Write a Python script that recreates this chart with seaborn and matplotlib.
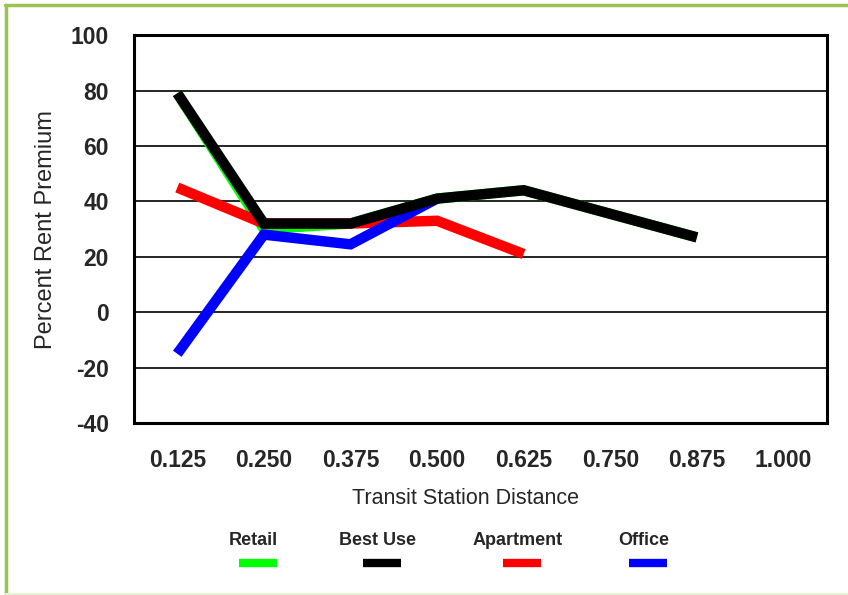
import numpy as np
import pandas as pd
import seaborn as sns
import matplotlib.pyplot as plt
from matplotlib.lines import Line2D

# data
distances = [0.125, 0.250, 0.375, 0.500, 0.625, 0.750, 0.875, 1.000]
retail    = [79, 30, 32, 41, 44, 35.5, 27]
best_use  = [79, 32, 32, 41, 44, 35.5, 27]
apartment = [45, 32, 32, 33, 21]
office    = [-15, 28, 24.5, 41]

legend_order = ['Retail', 'Best Use', 'Apartment', 'Office']
draw_order   = ['Retail', 'Apartment', 'Office', 'Best Use']
colors = {'Retail': '#00ff00', 'Best Use': '#000000',
          'Apartment': '#ff0000', 'Office': '#0000ff'}
series = {'Retail': retail, 'Best Use': best_use,
          'Apartment': apartment, 'Office': office}

rows = []
for name, vals in series.items():
    for d, v in zip(distances, vals):
        rows.append({'Distance': d, 'Premium': v, 'Use': name})
df = pd.DataFrame(rows)

sns.set_style('white')
plt.rcParams['font.family'] = ['Liberation Sans', 'DejaVu Sans']

fig = plt.figure(figsize=(8.48, 5.95), dpi=100)
ax = fig.add_axes([0.158, 0.289, 0.817, 0.652])

sns.lineplot(data=df, x='Distance', y='Premium', hue='Use', hue_order=draw_order,
             palette=colors, linewidth=7.5, legend=False, ax=ax, zorder=3)
for line in ax.get_lines():
    line.set_solid_capstyle('butt')
    line.set_solid_joinstyle('miter')

ax.set_xlim(0.0625, 1.0625)
ax.set_ylim(-40, 100)
ax.set_xticks(distances)
ax.set_xticklabels([f"{d:.3f}" for d in distances], fontsize=16.5, fontweight='bold')
yticks = np.arange(-40, 101, 20)
ax.set_yticks(yticks)
ax.set_yticklabels([str(t) for t in yticks], fontsize=16.5, fontweight='bold')
ax.tick_params(axis='both', length=0)
ax.tick_params(axis='x', pad=19)
ax.tick_params(axis='y', pad=18)
ax.grid(axis='y', color='black', linewidth=1.2)
ax.set_axisbelow(True)
for sp in ax.spines.values():
    sp.set_visible(True)
    sp.set_color('black')
    sp.set_linewidth(2.2)

ax.set_xlabel('Transit Station Distance', fontsize=15.5, labelpad=11, x=0.479)
ax.set_ylabel('Percent Rent Premium', fontsize=17, labelpad=10)

# legend: label above a short line sample
leg_x = [0.299, 0.445, 0.610, 0.759]
for x, name in zip(leg_x, legend_order):
    fig.text(x, 0.092, name, ha='center', va='center', fontsize=13, fontweight='bold')
    fig.add_artist(Line2D([x - 0.017, x + 0.028], [0.053, 0.053],
                          color=colors[name], linewidth=6, solid_capstyle='butt'))

# green frame around the chart area
frame = '#9bc34f'
fig.add_artist(Line2D([0.006, 1.0], [0.991, 0.991], color=frame, linewidth=2.5))
fig.add_artist(Line2D([0.007, 0.007], [0.002, 0.991], color=frame, linewidth=2.5))
fig.add_artist(Line2D([0.007, 1.0], [0.002, 0.002], color='#e8f0d6', linewidth=1.5))

fig.savefig('out.png', dpi=100)
